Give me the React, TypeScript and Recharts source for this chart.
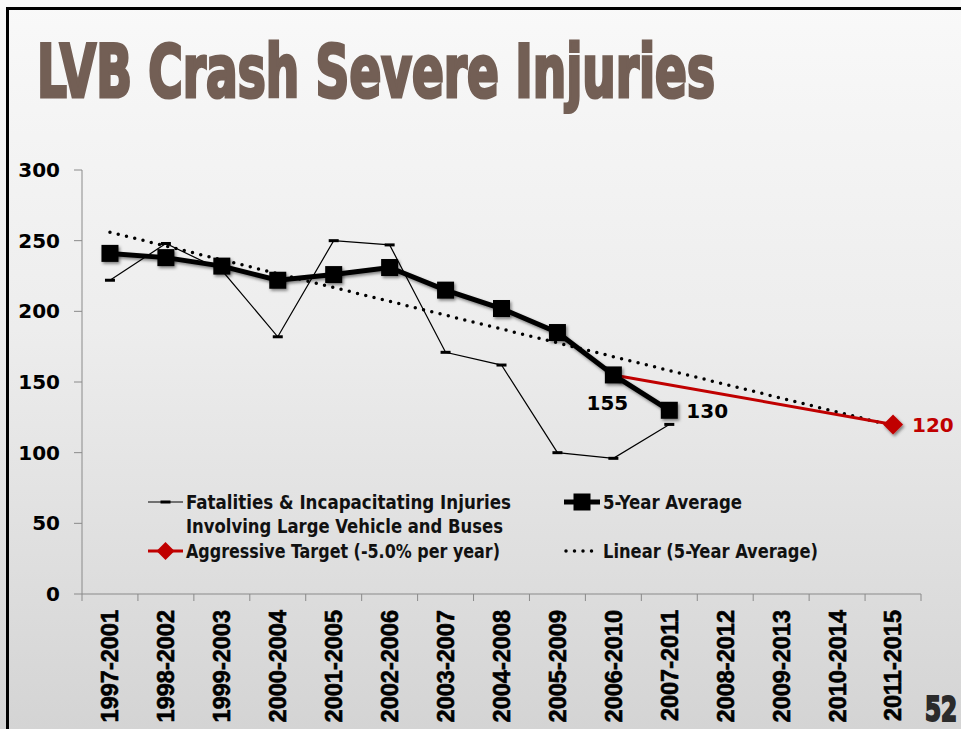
import React from 'react';
import { LineChart, Line, XAxis, YAxis, Legend } from 'recharts';

const categories = [
  '1997-2001', '1998-2002', '1999-2003', '2000-2004', '2001-2005',
  '2002-2006', '2003-2007', '2004-2008', '2005-2009', '2006-2010',
  '2007-2011', '2008-2012', '2009-2013', '2010-2014', '2011-2015',
];
const fatalities = [222, 248, 229, 182, 250, 247, 171, 162, 100, 96, 120, null, null, null, null];
const fiveYearAverage = [241, 238, 232, 222, 226, 231, 215, 202, 185, 155, 130, null, null, null, null];
const aggressiveTarget = [null, null, null, null, null, null, null, null, null, 155, null, null, null, null, 120];
const linearTrend = [256, null, null, null, null, null, null, null, null, null, null, null, null, null, 119];
const yTicks = [0, 50, 100, 150, 200, 250, 300];
const avgLabelIndices = [9, 10];
const targetLabelIndices = [14];

const data = categories.map((c, i) => ({
  idx: i,
  category: c,
  fatalities: fatalities[i],
  avg: fiveYearAverage[i],
  target: aggressiveTarget[i],
  trend: linearTrend[i],
}));

const xTicks: number[] = [];
categories.forEach((_, i) => { xTicks.push(i - 0.5); xTicks.push(i); });
xTicks.push(categories.length - 0.5);

const RED = '#c00000';
const AXIS = '#8a8a8a';
const BOLD = "'DejaVu Sans', sans-serif";
const COND = "'DejaVu Sans Condensed', 'DejaVu Sans', sans-serif";

const XTick = (props: any) => {
  const { x, y, payload } = props;
  const v = payload.value;
  if (!Number.isInteger(v)) {
    return <line x1={x} y1={y} x2={x} y2={y + 7} stroke={AXIS} strokeWidth={1} />;
  }
  const ty = y + 16;
  return (
    <text
      x={x}
      y={ty}
      transform={`rotate(-90 ${x} ${ty})`}
      textAnchor="end"
      dy="0.36em"
      fontFamily="'Liberation Sans', Arial, sans-serif"
      fontWeight="bold"
      fontSize={23.5}
      fill="#000"
      stroke="#000"
      strokeWidth={0.6}
    >
      {categories[v]}
    </text>
  );
};

const DashDot = (p: any) => {
  if (p.value == null || p.cx == null) return <g key={`fd-${p.index}`} />;
  return <rect key={`fd-${p.index}`} x={p.cx - 5} y={p.cy - 1.5} width={10} height={3} fill="#000" />;
};

const SquareDot = (p: any) => {
  if (p.value == null || p.cx == null) return <g key={`sq-${p.index}`} />;
  return (
    <rect key={`sq-${p.index}`} x={p.cx - 8.5} y={p.cy - 8.5} width={17} height={17} fill="#000" filter="url(#shadow)" />
  );
};

const DiamondDot = (p: any) => {
  if (p.value == null || p.cx == null || p.index !== data.length - 1) return <g key={`dm-${p.index}`} />;
  const { cx, cy } = p;
  const r = 10;
  return (
    <polygon
      key={`dm-${p.index}`}
      points={`${cx},${cy - r} ${cx + r},${cy} ${cx},${cy + r} ${cx - r},${cy}`}
      fill={RED}
      filter="url(#shadow)"
    />
  );
};

const AvgLabel = (p: any) => {
  const { x, y, value, index } = p;
  if (!avgLabelIndices.includes(index) || value == null) return null;
  const below = index === avgLabelIndices[0];
  return (
    <text
      x={below ? x - 6 : x + 17}
      y={below ? y + 35 : y + 8}
      textAnchor={below ? 'middle' : 'start'}
      fontFamily={BOLD}
      fontWeight="bold"
      fontSize={20}
      fill="#000"
    >
      {value}
    </text>
  );
};

const TargetLabel = (p: any) => {
  const { x, y, value, index } = p;
  if (!targetLabelIndices.includes(index) || value == null) return null;
  return (
    <text x={x + 19} y={y + 8} textAnchor="start" fontFamily={BOLD} fontWeight="bold" fontSize={20} fill={RED}>
      {value}
    </text>
  );
};

const LegendBlock = () => {
  const t = { fontFamily: COND, fontWeight: 'bold' as const, fontSize: 19, fill: '#111' };
  return (
    <svg width={700} height={90} style={{ display: 'block', overflow: 'visible' }}>
      <line x1={8} y1={17} x2={43} y2={17} stroke="#000" strokeWidth={1.2} />
      <rect x={20.5} y={15.5} width={10} height={3} fill="#000" />
      <text x={46} y={24} textLength={325} lengthAdjust="spacingAndGlyphs" {...t}>Fatalities &amp; Incapacitating Injuries</text>
      <text x={46} y={48} textLength={317} lengthAdjust="spacingAndGlyphs" {...t}>Involving Large Vehicle and Buses</text>
      <line x1={8} y1={66} x2={43} y2={66} stroke={RED} strokeWidth={3} />
      <polygon points="25.5,57 34.5,66 25.5,75 16.5,66" fill={RED} />
      <text x={46} y={73} textLength={314} lengthAdjust="spacingAndGlyphs" {...t}>Aggressive Target (-5.0% per year)</text>
      <line x1={424} y1={17} x2={460} y2={17} stroke="#000" strokeWidth={5} />
      <rect x={433.5} y={8.5} width={17} height={17} fill="#000" />
      <text x={463} y={24} textLength={139} lengthAdjust="spacingAndGlyphs" {...t}>5-Year Average</text>
      <line x1={426} y1={66} x2={460} y2={66} stroke="#000" strokeWidth={3.5} strokeDasharray="0 8.5" strokeLinecap="round" />
      <text x={463} y={73} textLength={215} lengthAdjust="spacingAndGlyphs" {...t}>Linear (5-Year Average)</text>
    </svg>
  );
};

export default function App() {
  const titleBase = 97;
  const titleScale = 1.45;
  const pageBase = 721;
  const pageScale = 1.4;
  return (
    <div
      style={{
        position: 'absolute',
        left: 0,
        top: 0,
        width: 961,
        height: 729,
        overflow: 'hidden',
        background: 'linear-gradient(180deg, #f9f9f9 0%, #ededed 45%, #d4d4d4 100%)',
      }}
    >
      <svg width={0} height={0} style={{ position: 'absolute' }}>
        <defs>
          <filter id="shadow" x="-50%" y="-50%" width="200%" height="200%">
            <feDropShadow dx={1.5} dy={2} stdDeviation={1.8} floodColor="#000" floodOpacity={0.45} />
          </filter>
        </defs>
      </svg>
      <svg width={961} height={729} style={{ position: 'absolute', left: 0, top: 0 }}>
        <rect x={6} y={7} width={955} height={3} fill="#000" />
        <rect x={6} y={7} width={3} height={722} fill="#000" />
        <text
          x={37}
          y={titleBase}
          transform={`matrix(1 0 0 ${titleScale} 0 ${titleBase - titleBase * titleScale})`}
          textLength={678}
          lengthAdjust="spacingAndGlyphs"
          fontFamily={COND}
          fontWeight="bold"
          fontSize={50}
          fill="#735f55"
          stroke="#735f55"
          strokeWidth={2.2}
        >
          LVB Crash Severe Injuries
        </text>
        <text
          x={925}
          y={pageBase}
          transform={`matrix(1 0 0 ${pageScale} 0 ${pageBase - pageBase * pageScale})`}
          textLength={32}
          lengthAdjust="spacingAndGlyphs"
          fontFamily={COND}
          fontWeight="bold"
          fontSize={24}
          fill="#2b2b2b"
          stroke="#2b2b2b"
          strokeWidth={1.5}
        >
          52
        </text>
      </svg>
      <div style={{ position: 'absolute', left: 0, top: 0 }}>
        <LineChart width={961} height={729} data={data} margin={{ top: 170, right: 40, bottom: 0, left: 0 }}>
          <XAxis
            dataKey="idx"
            type="number"
            domain={[-0.5, categories.length - 0.5]}
            ticks={xTicks}
            interval={0}
            allowDataOverflow
            tick={<XTick />}
            tickLine={false}
            tickSize={0}
            tickMargin={0}
            height={135}
            stroke={AXIS}
            axisLine={{ stroke: AXIS, strokeWidth: 1 }}
          />
          <YAxis
            domain={[0, 300]}
            ticks={yTicks}
            interval={0}
            width={82}
            tickSize={8}
            tickMargin={14}
            axisLine={{ stroke: AXIS, strokeWidth: 1 }}
            tickLine={{ stroke: AXIS, strokeWidth: 1 }}
            tick={{ fill: '#000', fontSize: 20, fontWeight: 'bold', fontFamily: BOLD }}
          />
          <Legend
            layout="vertical"
            align="center"
            verticalAlign="middle"
            content={() => <LegendBlock />}
            wrapperStyle={{ position: 'absolute', left: 140, top: 485, width: 700, height: 90 }}
          />
          <Line
            type="linear"
            dataKey="fatalities"
            name="Fatalities & Incapacitating Injuries Involving Large Vehicle and Buses"
            stroke="#000"
            strokeWidth={1.2}
            dot={DashDot}
            activeDot={false}
            isAnimationActive={false}
          />
          <Line
            type="linear"
            dataKey="avg"
            name="5-Year Average"
            stroke="#000"
            strokeWidth={5}
            dot={SquareDot}
            activeDot={false}
            label={AvgLabel}
            filter="url(#shadow)"
            isAnimationActive={false}
          />
          <Line
            type="linear"
            dataKey="trend"
            name="Linear (5-Year Average)"
            stroke="#000"
            strokeWidth={3.5}
            strokeDasharray="0 8.5"
            strokeLinecap="round"
            connectNulls
            dot={false}
            activeDot={false}
            isAnimationActive={false}
          />
          <Line
            type="linear"
            dataKey="target"
            name="Aggressive Target (-5.0% per year)"
            stroke={RED}
            strokeWidth={3}
            connectNulls
            dot={DiamondDot}
            activeDot={false}
            label={TargetLabel}
            isAnimationActive={false}
          />
        </LineChart>
      </div>
    </div>
  );
}
